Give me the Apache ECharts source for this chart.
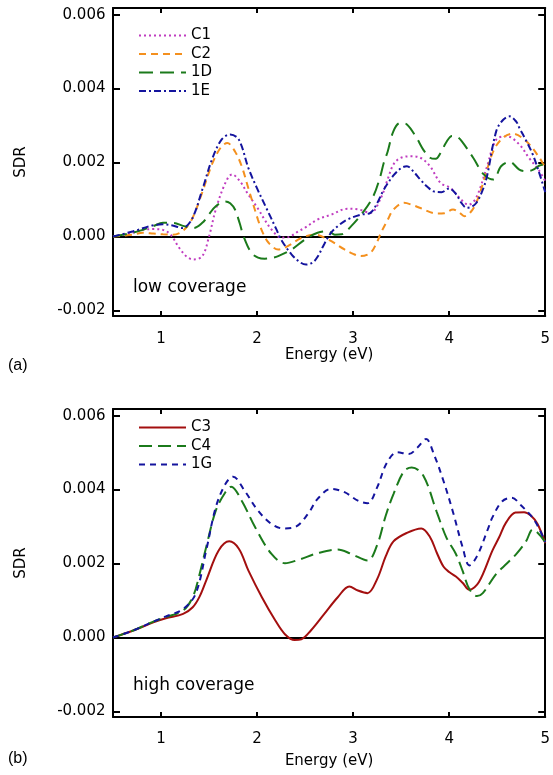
<!DOCTYPE html>
<html><head><meta charset="utf-8">
<script src="https://cdn.jsdelivr.net/npm/echarts@6/dist/echarts.min.js"></script>
<style>html,body{margin:0;padding:0;background:#fff}#c{width:553px;height:775px}</style>
</head><body><div id="c"></div>
<script>
// ---------- data (energy in eV, SDR) ----------
const xTicks = [1, 2, 3, 4, 5];
const yTicks = [-0.002, 0.000, 0.002, 0.004, 0.006];

// panel (a): low coverage
const c1E = [0.5,0.7,0.81,0.92,1.02,1.10,1.19,1.27,1.34,1.43,1.50,1.57,1.67,1.74,1.82,1.91,2.01,2.08,2.15,2.25,2.32,2.43,2.50,2.63,2.77,2.94,3.06,3.18,3.29,3.36,3.42,3.49,3.60,3.70,3.80,3.91,4.01,4.11,4.20,4.28,4.39,4.49,4.60,4.73,4.83,4.94,5.0];
const c1V = [0,0.00010,0.00018,0.00020,0.00018,0.00005,-0.00031,-0.00055,-0.00062,-0.00053,0,0.00073,0.00145,0.00168,0.00150,0.00113,0.00075,0.00045,0.00019,-0.00003,-0.00002,0.00014,0.00024,0.00046,0.00059,0.00075,0.00073,0.00064,0.00105,0.00155,0.00195,0.00212,0.00217,0.00213,0.00190,0.00145,0.00132,0.00104,0.00086,0.00104,0.00186,0.00262,0.00271,0.00249,0.00213,0.00177,0.00150];

const c2E = [0.5,0.7,0.81,0.92,1.02,1.12,1.22,1.32,1.43,1.53,1.62,1.69,1.77,1.84,1.91,2.01,2.06,2.12,2.22,2.32,2.46,2.60,2.74,2.91,3.00,3.08,3.18,3.24,3.29,3.36,3.42,3.53,3.62,3.70,3.87,3.95,4.04,4.10,4.16,4.22,4.28,4.36,4.46,4.56,4.66,4.80,4.94,5.0];
const c2V = [0,0.00005,0.00010,0.00008,0.00006,0.00005,0.00014,0.00046,0.00120,0.00195,0.00240,0.00253,0.00230,0.00190,0.00130,0.00045,0.00010,-0.00017,-0.00035,-0.00026,-0.00004,0.00005,-0.00008,-0.00035,-0.00047,-0.00053,-0.00044,-0.00020,0.00010,0.00045,0.00073,0.00091,0.00085,0.00077,0.00062,0.00063,0.00073,0.00066,0.00055,0.00065,0.00090,0.00150,0.00231,0.00267,0.00278,0.00258,0.00213,0.00185];

const d1E = [0.5,0.7,0.81,0.92,1.02,1.12,1.24,1.34,1.43,1.50,1.57,1.67,1.72,1.77,1.82,1.86,1.94,2.01,2.08,2.15,2.22,2.36,2.50,2.63,2.74,2.81,2.88,2.98,3.11,3.21,3.28,3.32,3.36,3.42,3.49,3.56,3.66,3.73,3.80,3.86,3.91,3.97,4.03,4.08,4.13,4.25,4.36,4.46,4.54,4.63,4.73,4.80,4.87,4.94,5.0];
const d1V = [0,0.00010,0.00018,0.00028,0.00037,0.00037,0.00028,0.00023,0.00037,0.00060,0.00082,0.00095,0.00090,0.00073,0.00035,0,-0.00044,-0.00057,-0.00060,-0.00058,-0.00053,-0.00035,-0.00008,0.00010,0.00014,0.00005,0.00006,0.00028,0.00068,0.00109,0.00160,0.00200,0.00230,0.00285,0.00307,0.00303,0.00267,0.00235,0.00213,0.00210,0.00226,0.00255,0.00272,0.00270,0.00258,0.00213,0.00168,0.00154,0.00190,0.00202,0.00181,0.00177,0.00180,0.00192,0.00195];

const e1E = [0.5,0.71,0.91,1.02,1.12,1.22,1.32,1.43,1.53,1.63,1.72,1.81,1.91,2.00,2.10,2.20,2.25,2.36,2.45,2.51,2.58,2.63,2.70,2.77,2.85,2.94,3.08,3.18,3.25,3.32,3.42,3.50,3.56,3.63,3.70,3.77,3.84,3.92,4.00,4.07,4.13,4.18,4.23,4.28,4.34,4.39,4.49,4.56,4.63,4.70,4.73,4.80,4.87,4.94,5.0];
const e1V = [0,0.00014,0.00030,0.00033,0.00030,0.00023,0.00046,0.00127,0.00208,0.00262,0.00276,0.00262,0.00185,0.00130,0.00075,0.00020,-0.00008,-0.00049,-0.00070,-0.00076,-0.00070,-0.00055,-0.00020,0.00010,0.00030,0.00046,0.00059,0.00064,0.00090,0.00127,0.00165,0.00185,0.00190,0.00175,0.00154,0.00135,0.00122,0.00120,0.00130,0.00115,0.00090,0.00078,0.00080,0.00090,0.00120,0.00159,0.00285,0.00315,0.00325,0.00310,0.00294,0.00260,0.00222,0.00170,0.00120];

// panel (b): high coverage
const c3E = [0.5,0.71,0.92,1.05,1.23,1.33,1.40,1.47,1.60,1.71,1.81,1.91,2.05,2.19,2.29,2.39,2.46,2.56,2.70,2.84,2.96,3.05,3.15,3.25,3.34,3.42,3.56,3.71,3.80,3.87,3.94,4.00,4.07,4.14,4.21,4.31,4.45,4.52,4.59,4.69,4.78,4.85,4.92,5.0];
const c3V = [0,0.00019,0.00041,0.00052,0.00064,0.00082,0.00110,0.00154,0.00235,0.00260,0.00240,0.00181,0.00109,0.00046,0.00009,-0.00007,-0.00005,0.00019,0.00064,0.00109,0.00138,0.00127,0.00120,0.00158,0.00220,0.00260,0.00283,0.00295,0.00272,0.00230,0.00192,0.00177,0.00165,0.00148,0.00129,0.00150,0.00235,0.00271,0.00310,0.00338,0.00339,0.00330,0.00307,0.00255];

const c4E = [0.5,0.71,0.92,1.05,1.23,1.33,1.40,1.47,1.57,1.67,1.73,1.84,1.98,2.15,2.29,2.43,2.63,2.84,2.98,3.15,3.25,3.34,3.42,3.53,3.61,3.73,3.87,3.97,4.07,4.14,4.21,4.29,4.35,4.49,4.60,4.70,4.80,4.87,5.0];
const c4V = [0,0.00019,0.00043,0.00055,0.00073,0.00109,0.00170,0.00244,0.00343,0.00393,0.00408,0.00370,0.00298,0.00226,0.00201,0.00210,0.00228,0.00238,0.00226,0.00208,0.00250,0.00330,0.00388,0.00450,0.00460,0.00438,0.00340,0.00271,0.00226,0.00180,0.00131,0.00112,0.00120,0.00172,0.00200,0.00226,0.00260,0.00292,0.00258];

const g1E = [0.5,0.71,0.92,1.05,1.23,1.36,1.47,1.57,1.67,1.75,1.87,2.01,2.15,2.27,2.39,2.53,2.63,2.77,2.91,3.05,3.15,3.25,3.35,3.46,3.58,3.67,3.76,3.84,3.94,4.04,4.14,4.21,4.29,4.41,4.45,4.55,4.65,4.75,4.89,5.0];
const g1V = [0,0.00019,0.00043,0.00057,0.00077,0.00118,0.00235,0.00352,0.00415,0.00435,0.00397,0.00343,0.00307,0.00295,0.00298,0.00334,0.00375,0.00402,0.00393,0.00370,0.00363,0.00406,0.00472,0.00501,0.00496,0.00514,0.00537,0.00496,0.00424,0.00339,0.00244,0.00195,0.00220,0.00298,0.00325,0.00368,0.00378,0.00357,0.00316,0.00258];

// ---------- chart ----------
const zip = (xs, ys) => xs.map((x, i) => [x, ys[i]]);
const FONT = 'DejaVu Sans';
const grids = [
  {left: 113, top: 8, width: 436, height: 308},
  {left: 113, top: 409, width: 436, height: 308}
];
const yMin = -0.00215, yMax = 0.00618;
const axLine = {show: true, onZero: false, lineStyle: {color: '#000', width: 2}};

function xAxes(g, margin, gap) {
  return [
    {gridIndex: g, type: 'value', min: 0.5, max: 5, position: 'bottom',
     axisLine: axLine, splitLine: {show: false},
     axisTick: {show: true, inside: true, length: 5, lineStyle: {width: 2, color: '#000'}, customValues: xTicks},
     axisLabel: {show: true, customValues: xTicks, margin: margin, color: '#000', fontFamily: FONT, fontSize: 15},
     name: 'Energy (eV)', nameLocation: 'middle', nameGap: gap,
     nameTextStyle: {color: '#000', fontFamily: FONT, fontSize: 15}},
    {gridIndex: g, type: 'value', min: 0.5, max: 5, position: 'top',
     axisLine: axLine, splitLine: {show: false},
     axisTick: {show: true, inside: true, length: 5, lineStyle: {width: 2, color: '#000'}, customValues: xTicks},
     axisLabel: {show: false}}
  ];
}
function yAxes(g) {
  return [
    {gridIndex: g, type: 'value', min: yMin, max: yMax, position: 'left',
     axisLine: axLine, splitLine: {show: false},
     axisTick: {show: true, inside: true, length: 7, lineStyle: {width: 2, color: '#000'}, customValues: yTicks},
     axisLabel: {show: true, customValues: yTicks, margin: 7.5, color: '#000', fontFamily: FONT, fontSize: 15,
                 formatter: v => v.toFixed(3)},
     name: 'SDR', nameLocation: 'middle', nameGap: 84, nameRotate: 90,
     nameTextStyle: {color: '#000', fontFamily: FONT, fontSize: 15}},
    {gridIndex: g, type: 'value', min: yMin, max: yMax, position: 'right',
     axisLine: axLine, splitLine: {show: false},
     axisTick: {show: true, inside: true, length: 7, lineStyle: {width: 2, color: '#000'}, customValues: yTicks},
     axisLabel: {show: false}}
  ];
}

function line(name, xs, ys, color, type, width, axisIdx) {
  return {name, type: 'line', xAxisIndex: axisIdx, yAxisIndex: axisIdx, data: zip(xs, ys),
    showSymbol: false, symbol: 'none', smooth: 0.35, z: 3,
    lineStyle: {color, type, width, cap: 'butt'}, itemStyle: {color}};
}
const zeroLine = {silent: true, symbol: 'none', label: {show: false},
  lineStyle: {color: '#000', type: 'solid', width: 2}, data: [{yAxis: 0}], z: 1};

const MAG = '#c03cc0', ORA = '#f4901e', GRN = '#1b7a1b', BLU = '#14149e', RED = '#a30f0f';

const series = [
  Object.assign(line('C1', c1E, c1V, MAG, [2, 3], 2, 0), {markLine: zeroLine}),
  line('C2', c2E, c2V, ORA, [7, 5], 2, 0),
  line('1D', d1E, d1V, GRN, [14, 7], 2, 0),
  line('1E', e1E, e1V, BLU, [7, 3, 2, 3], 2, 0),
  Object.assign(line('C3', c3E, c3V, RED, 'solid', 2, 2), {markLine: zeroLine}),
  line('C4', c4E, c4V, GRN, [13, 6], 2, 2),
  line('1G', g1E, g1V, BLU, [6, 5], 2, 2)
];

const legendBase = {orient: 'vertical', left: 133, itemWidth: 47, itemHeight: 14, itemGap: 3.5,
  itemStyle: {opacity: 0, borderWidth: 0},
  textStyle: {color: '#000', fontFamily: FONT, fontSize: 15},
  selectedMode: false};

const chart = echarts.init(document.getElementById('c'), null, {renderer: 'canvas'});
chart.setOption({
  animation: false,
  backgroundColor: '#fff',
  grid: grids,
  xAxis: [...xAxes(0, 16, 31), ...xAxes(1, 15, 37)],
  yAxis: [...yAxes(0), ...yAxes(1)],
  legend: [
    Object.assign({}, legendBase, {top: 23, data: ['C1', 'C2', '1D', '1E']}),
    Object.assign({}, legendBase, {top: 415, data: ['C3', 'C4', '1G']})
  ],
  graphic: [
    {type: 'text', left: 133, top: 279, style: {text: 'low coverage', fontFamily: FONT, fontSize: 17, fill: '#000'}},
    {type: 'text', left: 133, top: 677, style: {text: 'high coverage', fontFamily: FONT, fontSize: 17, fill: '#000'}},
    {type: 'text', left: 8, top: 358, style: {text: '(a)', fontFamily: 'Liberation Sans', fontSize: 16, fill: '#000'}},
    {type: 'text', left: 8, top: 751, style: {text: '(b)', fontFamily: 'Liberation Sans', fontSize: 16, fill: '#000'}}
  ],
  series
});
</script></body></html>
